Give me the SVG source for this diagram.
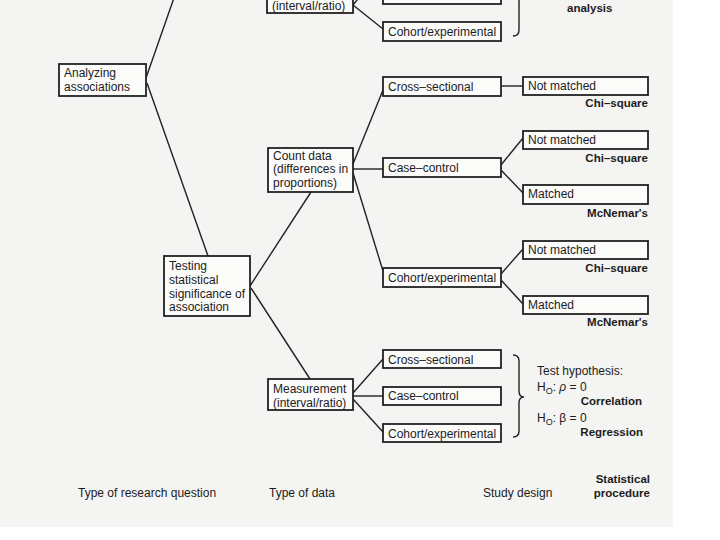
<svg xmlns="http://www.w3.org/2000/svg" width="720" height="540" viewBox="0 0 720 540">
<style>
.box{fill:#fbfbfa;stroke:#222;stroke-width:1.8}
.t{font-family:"Liberation Sans",Arial,sans-serif;font-size:12px;fill:#1c1c1c}
.b{font-family:"Liberation Sans",Arial,sans-serif;font-size:11.5px;font-weight:bold;fill:#1c1c1c}
.c{fill:none;stroke:#222;stroke-width:1.4}
</style>
<rect x="0" y="0" width="720" height="540" fill="#ffffff"/>
<rect x="0" y="0" width="673" height="527" fill="#f4f4f2"/>
<g id="connectors">
<line class="c" x1="146" y1="78" x2="175" y2="-5"/>
<line class="c" x1="147" y1="83" x2="208" y2="256"/>
<line class="c" x1="250" y1="286" x2="311" y2="192"/>
<line class="c" x1="251" y1="288" x2="310" y2="379"/>
<line class="c" x1="353" y1="5" x2="383" y2="29"/>
<line class="c" x1="353" y1="5" x2="361" y2="-5"/>
<line class="c" x1="353" y1="164" x2="383" y2="90"/>
<line class="c" x1="353" y1="169" x2="383" y2="169"/>
<line class="c" x1="353" y1="173" x2="383" y2="271"/>
<line class="c" x1="501" y1="86" x2="523" y2="86"/>
<line class="c" x1="501" y1="165" x2="523" y2="138"/>
<line class="c" x1="501" y1="170" x2="523" y2="193"/>
<line class="c" x1="501" y1="274" x2="523" y2="249"/>
<line class="c" x1="501" y1="280" x2="523" y2="304"/>
<line class="c" x1="353" y1="393" x2="383" y2="359"/>
<line class="c" x1="353" y1="396" x2="383" y2="396"/>
<line class="c" x1="353" y1="399" x2="383" y2="432"/>
<path class="c" d="M513 -60 Q519 -60 519 -54 L519 -10 Q519 -4 524 -4 Q519 -4 519 2 L519 30 Q519 36 513 36"/>
<path class="c" d="M513 355 Q519 355 519 361 L519 391 Q519 397 524 397 Q519 397 519 403 L519 431 Q519 437 513 437"/>
</g>
<g id="n-top-measurement">
<rect class="box" x="267" y="-24" width="86" height="37"/>
<text class="t" x="272" y="10">(interval/ratio)</text>
</g>
<g id="n-top-casecontrol">
<rect class="box" x="383" y="-15" width="118" height="19"/>
</g>
<g id="n-top-cohort">
<rect class="box" x="383" y="22" width="118" height="19"/>
<text class="t" x="388" y="36">Cohort/experimental</text>
</g>
<g id="n-top-analysis">
<text class="b" x="567" y="12">analysis</text>
</g>
<g id="n-analyzing">
<rect class="box" x="59" y="64" width="87" height="32"/>
<text class="t" x="64" y="77">Analyzing</text>
<text class="t" x="64" y="91">associations</text>
</g>
<g id="n-count">
<rect class="box" x="268" y="148" width="85" height="44"/>
<text class="t" x="273" y="160">Count data</text>
<text class="t" x="273" y="173">(differences in</text>
<text class="t" x="273" y="187">proportions)</text>
</g>
<g id="n-testing">
<rect class="box" x="164" y="256" width="86" height="60"/>
<text class="t" x="169" y="270">Testing</text>
<text class="t" x="169" y="284">statistical</text>
<text class="t" x="169" y="298">significance of</text>
<text class="t" x="169" y="311">association</text>
</g>
<g id="n-measurement">
<rect class="box" x="268" y="379" width="85" height="31"/>
<text class="t" x="273" y="393">Measurement</text>
<text class="t" x="273" y="407">(interval/ratio)</text>
</g>
<g id="n-cross1">
<rect class="box" x="383" y="77" width="118" height="19"/>
<text class="t" x="388" y="91">Cross–sectional</text>
</g>
<g id="n-nm1">
<rect class="box" x="523" y="77" width="125" height="18"/>
<text class="t" x="528" y="90">Not matched</text>
<text class="b" x="648" y="107" text-anchor="end">Chi–square</text>
</g>
<g id="n-case1">
<rect class="box" x="383" y="158" width="118" height="19"/>
<text class="t" x="388" y="172">Case–control</text>
</g>
<g id="n-nm2">
<rect class="box" x="523" y="131" width="125" height="18"/>
<text class="t" x="528" y="144">Not matched</text>
<text class="b" x="648" y="162" text-anchor="end">Chi–square</text>
</g>
<g id="n-m1">
<rect class="box" x="523" y="185" width="125" height="19"/>
<text class="t" x="528" y="198">Matched</text>
<text class="b" x="648" y="217" text-anchor="end">McNemar's</text>
</g>
<g id="n-cohort1">
<rect class="box" x="383" y="268" width="118" height="19"/>
<text class="t" x="388" y="282">Cohort/experimental</text>
</g>
<g id="n-nm3">
<rect class="box" x="523" y="241" width="125" height="18"/>
<text class="t" x="528" y="254">Not matched</text>
<text class="b" x="648" y="272" text-anchor="end">Chi–square</text>
</g>
<g id="n-m2">
<rect class="box" x="523" y="296" width="125" height="18"/>
<text class="t" x="528" y="309">Matched</text>
<text class="b" x="648" y="326" text-anchor="end">McNemar's</text>
</g>
<g id="n-cross2">
<rect class="box" x="383" y="350" width="118" height="18"/>
<text class="t" x="388" y="364">Cross–sectional</text>
</g>
<g id="n-case2">
<rect class="box" x="383" y="387" width="118" height="18"/>
<text class="t" x="388" y="400">Case–control</text>
</g>
<g id="n-cohort2">
<rect class="box" x="383" y="424" width="118" height="18"/>
<text class="t" x="388" y="438">Cohort/experimental</text>
</g>
<g id="n-hypothesis">
<text class="t" x="537" y="375">Test hypothesis:</text>
<text class="t" x="537" y="391">H<tspan font-size="9" dy="3">O</tspan><tspan dy="-3">: </tspan><tspan font-style="italic">ρ</tspan> = 0</text>
<text class="b" x="642" y="405" text-anchor="end">Correlation</text>
<text class="t" x="537" y="422">H<tspan font-size="9" dy="3">O</tspan><tspan dy="-3">: β = 0</tspan></text>
<text class="b" x="643" y="436" text-anchor="end">Regression</text>
</g>
<g id="labels">
<text class="t" x="78" y="497">Type of research question</text>
<text class="t" x="269" y="497">Type of data</text>
<text class="t" x="483" y="497">Study design</text>
<text class="b" x="650" y="483" text-anchor="end">Statistical</text>
<text class="b" x="650" y="497" text-anchor="end">procedure</text>
</g>
</svg>
